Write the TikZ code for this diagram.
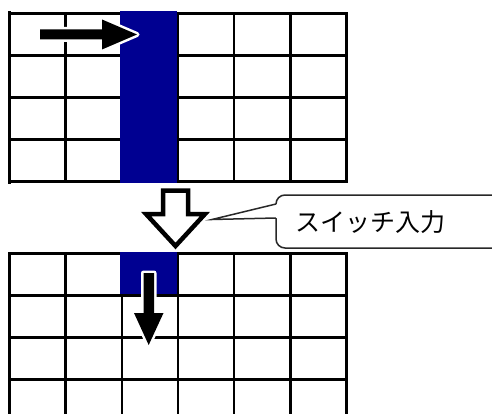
\documentclass[tikz,border=0pt]{standalone}
\usepackage{fontspec}
\newfontfamily\jpfont{Noto Sans CJK JP}
\definecolor{navy}{RGB}{0,0,145}
\definecolor{boxline}{RGB}{40,40,40}
\begin{document}
\begin{tikzpicture}[x=1pt,y=-1pt,
  gridline/.style={line width=2.5pt,black,line cap=rect},
  edgeline/.style={line width=3.6pt,black,line cap=rect},
  cellfill/.style={fill=navy},
  solidarrow/.style={fill=black,preaction={draw=white,line width=5pt,line join=round}},
  hollowarrow/.style={draw=black,fill=white,line width=4.5pt,line join=miter},
  callout/.style={draw=boxline,fill=white,line width=1.5pt},
  label/.style={font=\jpfont\fontsize{25}{25}\selectfont,inner sep=0pt}]
\clip (0,0) rectangle (492,414);
\fill[white] (0,0) rectangle (492,414);
% ---------- top grid ----------
\foreach \i in {1,...,6} \draw[gridline] ({9.3+56.23*\i},13.3) -- ({9.3+56.23*\i},181.7);
\foreach \j in {0,...,4} \draw[gridline] (9.3,{13.3+42.1*\j}) -- (346.7,{13.3+42.1*\j});
\draw[edgeline] (9.3,13.3) -- (9.3,181.7);
\fill[cellfill] (120.3,11.5) rectangle (177.2,183);
% top arrow
\path[solidarrow] (40,29.5) -- (102,29.5) -- (102,19.5) -- (137,34.5)
  -- (102,49.5) -- (102,39.5) -- (40,39.5) -- cycle;
% ---------- hollow arrow ----------
\path[hollowarrow] (163,190.5) -- (188,190.5) -- (188,214) -- (205,214)
  -- (175.5,246) -- (146,214) -- (163,214) -- cycle;
% ---------- callout ----------
\draw[callout,rounded corners=9pt] (276,195) rectangle (530,248);
\fill[white] (277.6,204) -- (212,219.5) -- (277.6,218) -- cycle;
\coordinate (ptip) at (212,219.5);
\coordinate (pa) at (276,204);
\coordinate (pb) at (276,218);
\draw[boxline,line width=1.5pt,line join=miter] (pa) -- (ptip) -- (pb);
\node[label,anchor=west] (lbl) at (295,222.5) {スイッチ入力};
% ---------- bottom grid ----------
\foreach \i in {1,...,6} \draw[gridline] ({9.3+56.23*\i},253.3) -- ({9.3+56.23*\i},425);
\foreach \j in {0,...,3} \draw[gridline] (9.3,{253.3+42.1*\j}) -- (346.7,{253.3+42.1*\j});
\draw[edgeline] (9.3,253.3) -- (9.3,425);
\fill[cellfill] (120.3,252) rectangle (177.2,294.2);
% down arrow
\path[solidarrow] (143.5,273) -- (154,273) -- (154,313) -- (163.5,313)
  -- (148.7,345) -- (134,313) -- (143.5,313) -- cycle;
\end{tikzpicture}
\end{document}
